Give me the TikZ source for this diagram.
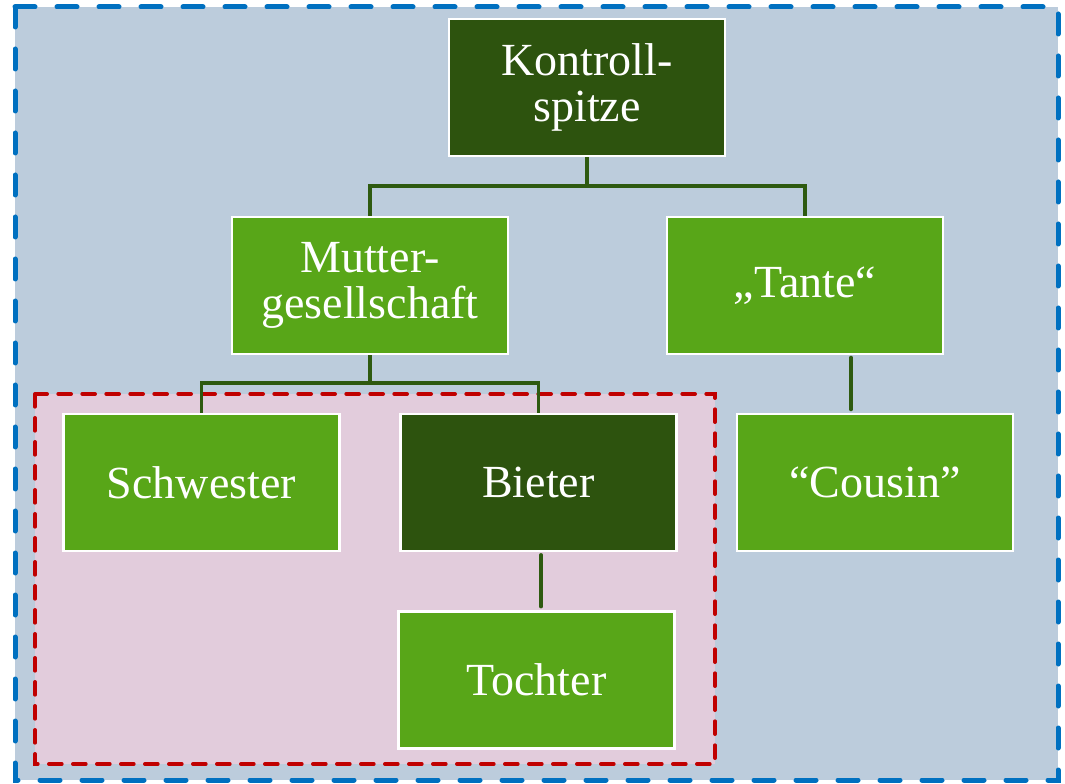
\documentclass[tikz,border=0pt]{standalone}
\usepackage{fontspec}
\setmainfont{Liberation Serif}
\definecolor{bgblue}{HTML}{BCCCDC}
\definecolor{bgpink}{HTML}{E2CCDC}
\definecolor{frameblue}{HTML}{0070C0}
\definecolor{framered}{HTML}{C00000}
\definecolor{darkgreen}{HTML}{2D530E}
\definecolor{lightgreen}{HTML}{58A618}
\definecolor{linkgreen}{HTML}{2E5A10}
\tikzset{
  orgbox/.style={rectangle, draw=white, line width=1.6pt, minimum width=207pt, minimum height=102.75pt,
    text=white, align=center, inner sep=0pt,
    font=\fontsize{34.5}{34.5}\selectfont},
  topbox/.style={orgbox, fill=darkgreen},
  subbox/.style={orgbox, fill=lightgreen},
  link/.style={draw=linkgreen, line width=2.3pt},
  stem/.style={draw=linkgreen, line width=3.6pt, line cap=round},
}
\begin{document}
\begin{tikzpicture}[x=0.75pt, y=-0.75pt]
\useasboundingbox (0,0) rectangle (1065,784);
% group frames
\draw[fill=bgblue, draw=frameblue, line width=3.75pt, line cap=round, dash pattern=on 15pt off 16.5pt]
  (15,7) rectangle (1058,780);
\draw[fill=bgpink, draw=framered, line width=3pt, line cap=round, dash pattern=on 9.5pt off 8.5pt]
  (35,394) rectangle (715,764);
% boxes
\node[topbox] (K) at (587,87.5) {Kontroll-\\spitze};
\node[subbox] (M) at (370,285.5) {Mutter-\\gesellschaft};
\node[subbox] (T) at (805,285.5) {„Tante“};
\node[subbox] (S) at (201.5,482.5) {Schwester};
\node[topbox] (B) at (538.5,482.5) {Bieter};
\node[subbox] (C) at (875,482.5) {“Cousin”};
\node[subbox] (To) at (536.5,680) {Tochter};
% branch levels
\coordinate (k1) at (587,186);
\coordinate (m1) at (370,383);
\coordinate (tc) at (851,0);
\coordinate (bt) at (541,0);
% connectors
\draw[link] (K.south) -- (k1) -| (M.north);
\draw[link] (k1) -| (T.north);
\draw[link] (M.south) -- (m1) -| (S.north);
\draw[link] (m1) -| (B.north);
\draw[stem] (T.south -| tc) ++(0,3) -- ([yshift=3]C.north -| tc);
\draw[stem, line width=3pt] (B.south -| bt) ++(0,3) -- ([yshift=3]To.north -| bt);
\end{tikzpicture}
\end{document}
